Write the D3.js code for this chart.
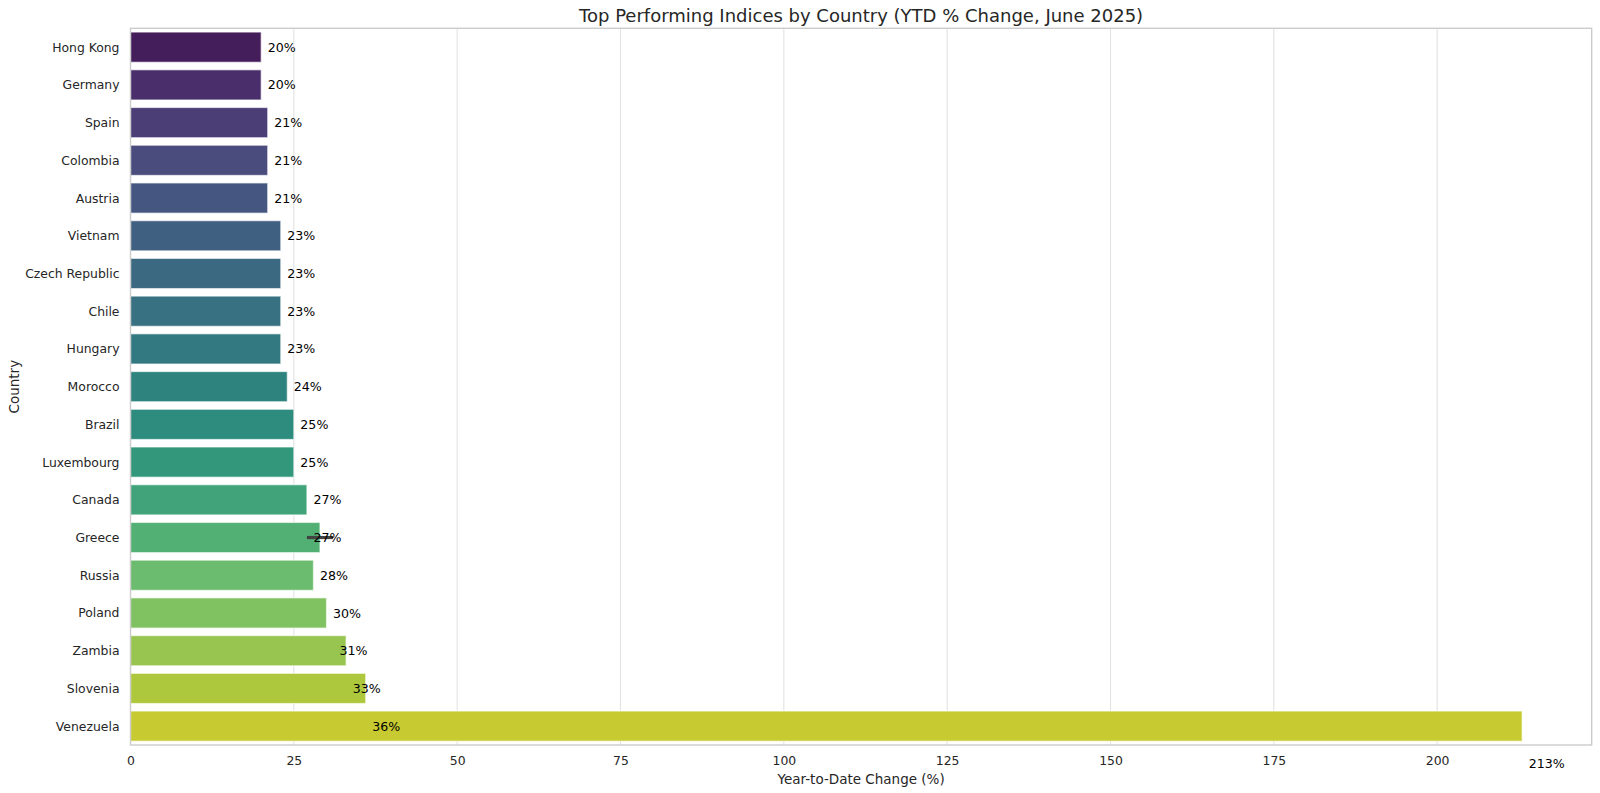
<!DOCTYPE html>
<html>
<head>
<meta charset="utf-8">
<script src="https://d3js.org/d3.v7.min.js"></script>
<title>Top Performing Indices by Country</title>
<style type="text/css">
  body { margin: 0; background: #ffffff; }
  text { font-family: "DejaVu Sans", Verdana, sans-serif; }
</style>
</head>
<body>
<div id="myvisualization"></div>

<script>

// rows of the source table, sorted by YTD change (Greece is listed twice)
var rowCountries = ["Hong Kong", "Germany", "Spain", "Colombia", "Austria",
  "Vietnam", "Czech Republic", "Chile", "Hungary", "Morocco", "Brazil",
  "Luxembourg", "Canada", "Greece", "Russia", "Poland", "Greece", "Zambia",
  "Slovenia", "Venezuela"];
var rowValues = [20, 20, 21, 21, 21, 23, 23, 23, 23, 24, 25, 25, 27, 27, 28, 30, 31, 33, 36, 213];

var xTicks = [0, 25, 50, 75, 100, 125, 150, 175, 200];

var chartTitle = "Top Performing Indices by Country (YTD % Change, June 2025)";
var xLabel = "Year-to-Date Change (%)";
var yLabel = "Country";

// one bar per country: mean of its rows, spread shown as an error bar
var countries = [];
rowCountries.forEach(function(c) { if (countries.indexOf(c) < 0) countries.push(c); });
var bars = countries.map(function(c, i) {
  var vals = rowValues.filter(function(v, j) { return rowCountries[j] == c; });
  return { country: c, index: i, value: d3.mean(vals), lo: d3.min(vals), hi: d3.max(vals), n: vals.length };
});

// set the dimensions and margins of the graph
var W = 1600, H = 793;
var margin = {top: 28.3, right: 8.3, bottom: 48, left: 130.5},
    width = W - margin.left - margin.right,
    height = H - margin.top - margin.bottom;

var svg = d3.select("#myvisualization").append("svg")
  .attr("width", W)
  .attr("height", H);

var g = svg.append("g")
  .attr("transform", "translate(" + margin.left + "," + margin.top + ")");

// scales (matplotlib style 5% margin on the right)
var x = d3.scaleLinear()
  .domain([0, d3.max(rowValues) * 1.05])
  .range([0, width]);

var y = d3.scaleLinear()
  .domain([-0.5, countries.length - 0.5])
  .range([0, height]);

var step = y(1) - y(0);
var barH = step * 0.8;

// seaborn style palette: viridis samples, desaturated to 75%
function barColor(i) {
  var c = d3.hsl(d3.interpolateViridis((i + 1) / (countries.length + 1)));
  c.s = c.s * 0.75;
  return c.formatHex();
}

// grid lines
g.append("g").selectAll("line")
  .data(xTicks)
  .enter().append("line")
  .attr("x1", function(d) { return x(d); })
  .attr("x2", function(d) { return x(d); })
  .attr("y1", 0)
  .attr("y2", height)
  .style("stroke", "#e2e2e2")
  .style("stroke-width", 1.1);

// bars
g.append("g").selectAll("rect")
  .data(bars)
  .enter().append("rect")
  .attr("x", x(0))
  .attr("y", function(d) { return y(d.index) - barH / 2; })
  .attr("width", function(d) { return x(d.value) - x(0); })
  .attr("height", barH)
  .style("fill", function(d) { return barColor(d.index); })
  .style("stroke", "#ffffff")
  .style("stroke-opacity", 0.6)
  .style("stroke-width", 1.2);

// error bars for countries with more than one row
g.append("g").selectAll("line")
  .data(bars.filter(function(d) { return d.n > 1; }))
  .enter().append("line")
  .attr("x1", function(d) { return x(d.lo); })
  .attr("x2", function(d) { return x(d.hi); })
  .attr("y1", function(d) { return y(d.index); })
  .attr("y2", function(d) { return y(d.index); })
  .style("stroke", "#424242")
  .style("stroke-width", 3.2);

// value labels, one per table row, at value + 1
g.append("g").selectAll("text")
  .data(rowValues)
  .enter().append("text")
  .attr("x", function(d) { return x(d + 1); })
  .attr("y", function(d, i) { return y(i); })
  .attr("dy", "0.36em")
  .attr("font-size", "12.6px")
  .style("fill", "#000000")
  .text(function(d) { return d3.format(".0f")(d) + "%"; });

// frame
g.append("rect")
  .attr("x", 0)
  .attr("y", 0)
  .attr("width", width)
  .attr("height", height)
  .style("fill", "none")
  .style("stroke", "#cccccc")
  .style("stroke-width", 1.4);

// x axis ticks
var xAxis = g.append("g")
  .attr("transform", "translate(0," + height + ")")
  .call(d3.axisBottom(x).tickValues(xTicks).tickSize(0).tickPadding(11).tickFormat(d3.format("d")));
xAxis.select(".domain").remove();
xAxis.selectAll("text")
  .attr("font-size", "12.4px")
  .style("fill", "#262626")
  .style("font-family", "DejaVu Sans, sans-serif");

// y axis ticks
var yAxis = g.append("g")
  .call(d3.axisLeft(y).tickValues(d3.range(countries.length)).tickSize(0).tickPadding(11)
    .tickFormat(function(i) { return countries[i]; }));
yAxis.select(".domain").remove();
yAxis.selectAll("text")
  .attr("font-size", "12.4px")
  .style("fill", "#262626")
  .style("font-family", "DejaVu Sans, sans-serif");

// title and axis labels
svg.append("text")
  .attr("x", margin.left + width / 2)
  .attr("y", 22)
  .attr("font-size", "18px")
  .style("text-anchor", "middle")
  .style("fill", "#262626")
  .text(chartTitle);

svg.append("text")
  .attr("x", margin.left + width / 2)
  .attr("y", 784)
  .attr("font-size", "13.5px")
  .style("text-anchor", "middle")
  .style("fill", "#262626")
  .text(xLabel);

svg.append("text")
  .attr("transform", "rotate(-90)")
  .attr("x", -(margin.top + height / 2))
  .attr("y", 18.5)
  .attr("font-size", "13.5px")
  .style("text-anchor", "middle")
  .style("fill", "#262626")
  .text(yLabel);

</script>
</body>
</html>
